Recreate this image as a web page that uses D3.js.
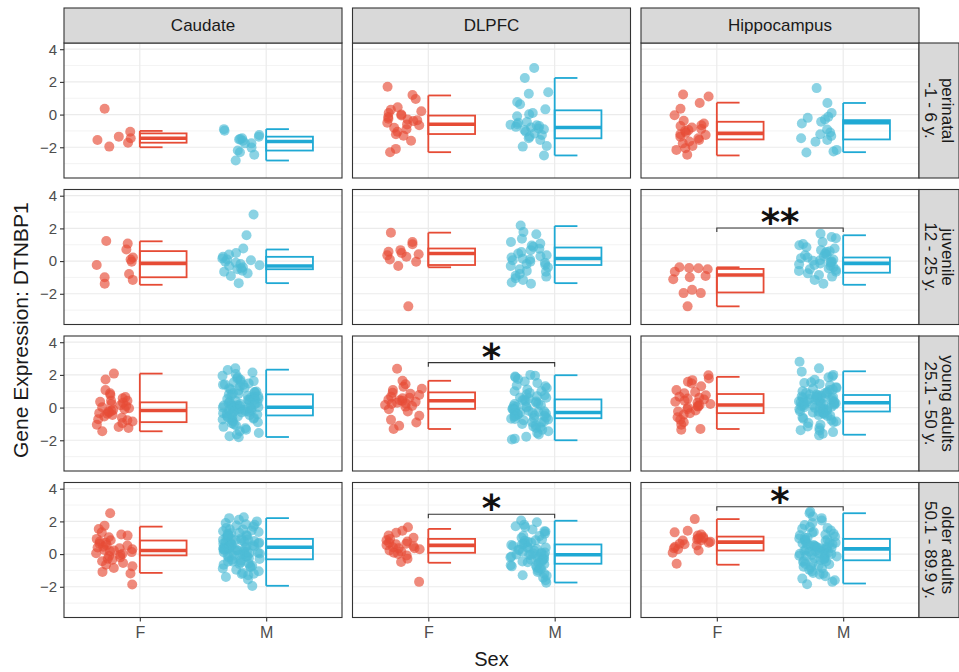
<!DOCTYPE html>
<html>
<head>
<meta charset="utf-8">
<script src="https://cdn.jsdelivr.net/npm/d3@7"></script>
<style>
  body { margin: 0; background: #fff; }
  svg { font-family: "Liberation Sans", Arial, sans-serif; }
</style>
</head>
<body>
<div id="chart"></div>
<script>
// facets and axis values
const regions = ["Caudate", "DLPFC", "Hippocampus"];
const ages = [
  ["perinatal", "-1 - 6 y."],
  ["juvenile", "12 - 25 y."],
  ["young adults", "25.1 - 50 y."],
  ["older adults", "50.1 - 89.9 y."]
];
const sexes = ["F", "M"];
const yTicks = [-2, 0, 2, 4];
const yMinor = [-3, -1, 1, 3];

// gene expression values, one array per panel and sex
const caudatePerinatalF = [0.36, -1.05, -1.35, -1.45, -1.55, -1.72, -1.96];
const caudatePerinatalM = [-0.89, -0.99, -1.25, -1.35, -1.45, -1.52, -1.6, -1.76, -1.76, -2.02, -2.2, -2.3, -2.46, -2.81, -1.5];
const dlpfcPerinatalF = [1.7, 1.2, 0.95, 0.45, 0.3, 0.2, 0.1, 0.0, -0.05, -0.15, -0.25, -0.3, -0.4, -0.5, -0.6, -0.65, -0.8, -0.9, -1.05, -1.2, -1.3, -1.6, -2.1, -2.3, -0.35];
const dlpfcPerinatalM = [2.85, 2.24, 1.37, 1.27, 0.77, 0.63, 0.32, 0.1, 0.02, -0.1, -0.45, -0.59, -0.62, -0.65, -0.7, -0.75, -0.79, -0.85, -0.9, -0.95, -1.05, -1.15, -1.25, -1.35, -1.45, -1.55, -1.92, -1.96, -2.5, -0.5];
const hippPerinatalF = [1.23, 1.11, 0.71, 0.36, -0.04, -0.38, -0.55, -0.65, -0.7, -0.79, -0.88, -0.95, -1.0, -1.11, -1.2, -1.25, -1.35, -1.45, -1.56, -1.65, -1.76, -1.92, -2.06, -2.16, -2.46];
const hippPerinatalM = [1.62, 0.71, 0.1, -0.14, -0.2, -0.3, -0.44, -0.55, -0.91, -1.1, -1.2, -1.31, -1.45, -1.56, -1.66, -2.16, -2.26, -2.32];

const caudateJuvenileF = [1.23, 1.07, 0.71, 0.22, -0.04, -0.24, -0.79, -0.99, -1.15, -1.39, 0.1];
const caudateJuvenileM = [2.85, 1.58, 0.77, 0.5, 0.4, 0.26, 0.16, 0.1, 0.05, -0.04, -0.1, -0.18, -0.25, -0.3, -0.38, -0.45, -0.5, -0.59, -0.65, -0.75, -0.91, -1.35];
const dlpfcJuvenileF = [1.74, 1.17, 1.03, 0.67, 0.57, 0.42, 0.35, 0.26, 0.1, -0.04, -0.3, -2.77, 0.5];
const dlpfcJuvenileM = [2.18, 1.78, 1.64, 1.37, 1.17, 1.07, 0.95, 0.87, 0.75, 0.67, 0.55, 0.46, 0.36, 0.3, 0.22, 0.15, 0.1, 0.05, -0.04, -0.1, -0.18, -0.24, -0.3, -0.38, -0.5, -0.6, -0.65, -0.79, -0.9, -0.95, -1.05, -1.15, -1.31, -1.39];
const hippJuvenileF = [-0.38, -0.44, -0.5, -0.42, -0.65, -0.91, -0.99, -1.11, -1.76, -1.96, -1.96, -2.77];
const hippJuvenileM = [1.68, 1.47, 1.4, 1.17, 1.05, 0.97, 0.85, 0.77, 0.67, 0.6, 0.46, 0.4, 0.36, 0.3, 0.22, 0.18, 0.1, 0.05, 0.02, -0.02, -0.1, -0.15, -0.2, -0.24, -0.3, -0.38, -0.45, -0.5, -0.55, -0.6, -0.65, -0.75, -0.85, -0.95, -1.15, -1.39, 0.55, -0.05];

const caudateYoungF = [2.08, 1.72, 1.07, 0.87, 0.77, 0.57, 0.42, 0.42, 0.35, 0.3, 0.22, 0.15, 0.1, 0.02, -0.04, -0.1, -0.14, -0.2, -0.24, -0.34, -0.38, -0.45, -0.55, -0.62, -0.71, -0.78, -0.85, -0.95, -1.05, -1.19, -1.25, -1.45, 0.65, -0.3];
const caudateYoungM = [2.4, 2.3, 2.15, 2.05, 1.95, 1.85, 1.78, 1.7, 1.62, 1.55, 1.48, 1.42, 1.38, 1.3, 1.22, 1.18, 1.1, 1.05, 0.98, 0.92, 0.88, 0.84, 0.8, 0.76, 0.72, 0.68, 0.63, 0.6, 0.55, 0.52, 0.48, 0.44, 0.4, 0.36, 0.33, 0.3, 0.26, 0.22, 0.19, 0.15, 0.12, 0.09, 0.06, 0.03, 0.01, -0.02, -0.05, -0.08, -0.11, -0.14, -0.17, -0.2, -0.24, -0.27, -0.3, -0.34, -0.38, -0.42, -0.46, -0.5, -0.54, -0.58, -0.63, -0.68, -0.73, -0.78, -0.84, -0.9, -0.96, -1.02, -1.1, -1.18, -1.26, -1.35, -1.45, -1.55, -1.65, -1.75, -1.82, 1.4, 0.95, 0.5, 0.1, -0.25, -0.6, 0.7, 0.2, -0.4, 1.6, 0.0];
const dlpfcYoungF = [2.38, 1.64, 1.43, 1.27, 1.15, 1.07, 0.91, 0.85, 0.77, 0.67, 0.6, 0.57, 0.5, 0.42, 0.35, 0.3, 0.22, 0.16, 0.1, 0.06, -0.1, -0.24, -0.5, -0.75, -0.91, -1.11, -1.31, 0.45, 0.25];
const dlpfcYoungM = [2.0, 1.95, 1.9, 1.75, 1.6, 1.5, 1.35, 1.2, 1.1, 1.0, 0.9, 0.8, 0.7, 0.62, 0.55, 0.5, 0.45, 0.38, 0.3, 0.22, 0.15, 0.1, 0.05, 0.0, -0.05, -0.1, -0.14, -0.18, -0.22, -0.26, -0.3, -0.33, -0.36, -0.4, -0.44, -0.48, -0.52, -0.56, -0.6, -0.64, -0.68, -0.72, -0.78, -0.85, -0.92, -1.0, -1.08, -1.15, -1.25, -1.35, -1.45, -1.55, -1.65, -1.78, -1.9, -1.95, 1.85, 1.3, 0.75, 0.25, -0.2, -0.5, -0.9, 0.4, -0.35, 0.05, -0.7, 1.0, -1.2, 0.6];
const hippYoungF = [1.98, 1.78, 1.68, 1.58, 1.47, 1.3, 1.07, 0.95, 0.87, 0.75, 0.67, 0.6, 0.5, 0.42, 0.36, 0.3, 0.22, 0.15, 0.06, 0.0, -0.1, -0.18, -0.24, -0.35, -0.44, -0.59, -0.75, -0.9, -1.05, -1.31, -1.35, 0.55, 0.1];
const hippYoungM = [2.8, 2.4, 2.2, 2.0, 1.85, 1.7, 1.55, 1.45, 1.35, 1.25, 1.15, 1.08, 1.0, 0.95, 0.9, 0.85, 0.8, 0.76, 0.72, 0.68, 0.64, 0.6, 0.56, 0.52, 0.48, 0.45, 0.42, 0.38, 0.35, 0.32, 0.3, 0.27, 0.24, 0.2, 0.17, 0.13, 0.1, 0.06, 0.02, -0.02, -0.06, -0.1, -0.14, -0.18, -0.22, -0.26, -0.3, -0.35, -0.4, -0.46, -0.52, -0.6, -0.68, -0.76, -0.85, -0.95, -1.05, -1.15, -1.25, -1.38, -1.5, -1.6, -1.7, 1.5, 1.1, 0.7, 0.4, 0.15, -0.1, -0.5, 0.9, 0.55, 0.25, -0.3, 1.2, 0.0, 0.35, -0.9, 0.6, 0.8, 1.9, -1.4];

const caudateOlderF = [2.5, 1.74, 1.54, 1.33, 1.2, 1.13, 1.03, 0.93, 0.85, 0.77, 0.7, 0.63, 0.55, 0.53, 0.45, 0.36, 0.3, 0.22, 0.18, 0.12, 0.05, 0.02, -0.05, -0.12, -0.2, -0.28, -0.35, -0.44, -0.55, -0.65, -0.75, -0.85, -1.09, -1.19, -1.86, 0.4, 0.25];
const caudateOlderM = [2.25, 2.2, 2.1, 2.0, 1.9, 1.82, 1.75, 1.68, 1.6, 1.52, 1.45, 1.4, 1.35, 1.28, 1.22, 1.16, 1.1, 1.05, 1.0, 0.96, 0.92, 0.88, 0.84, 0.8, 0.76, 0.72, 0.68, 0.64, 0.6, 0.57, 0.54, 0.5, 0.47, 0.44, 0.42, 0.4, 0.37, 0.34, 0.3, 0.27, 0.24, 0.2, 0.16, 0.12, 0.08, 0.04, 0.0, -0.04, -0.08, -0.12, -0.16, -0.2, -0.25, -0.3, -0.35, -0.4, -0.46, -0.52, -0.58, -0.65, -0.72, -0.8, -0.88, -0.96, -1.05, -1.15, -1.22, -1.3, -1.4, -1.55, -1.95, 1.8, 1.5, 1.2, 0.9, 0.65, 0.45, 0.25, 0.05, -0.15, -0.45, -0.75, 1.1, 0.7, 0.35, -0.05, 1.3, 0.55, 0.15, -0.6, -1.2, 0.85, 0.3];
const dlpfcOlderF = [1.64, 1.43, 1.3, 1.13, 1.0, 0.93, 0.85, 0.77, 0.7, 0.63, 0.55, 0.48, 0.42, 0.36, 0.3, 0.22, 0.15, 0.08, 0.0, -0.08, -0.28, -0.48, -1.7, 0.6, 0.35];
const dlpfcOlderM = [2.05, 1.95, 1.8, 1.65, 1.5, 1.38, 1.25, 1.12, 1.0, 0.9, 0.82, 0.75, 0.68, 0.62, 0.56, 0.5, 0.44, 0.38, 0.32, 0.26, 0.2, 0.14, 0.08, 0.03, -0.02, -0.06, -0.1, -0.15, -0.2, -0.25, -0.3, -0.35, -0.4, -0.45, -0.5, -0.56, -0.62, -0.68, -0.75, -0.82, -0.9, -1.0, -1.1, -1.2, -1.32, -1.45, -1.6, -1.75, 1.7, 1.1, 0.6, 0.1, -0.3, -0.7, 0.4, -0.05, 0.85, -1.3, 0.25, -0.45, 1.4, 0.0, -0.9, 0.7, -0.2];
const hippOlderF = [2.14, 1.43, 1.33, 1.2, 1.13, 0.97, 0.97, 0.9, 0.83, 0.75, 0.7, 0.63, 0.53, 0.45, 0.36, 0.3, 0.22, 0.08, -0.59, 0.6, 0.85, 1.05];
const hippOlderM = [2.6, 2.5, 2.2, 2.05, 1.9, 1.78, 1.65, 1.55, 1.45, 1.35, 1.25, 1.15, 1.08, 1.0, 0.95, 0.9, 0.85, 0.8, 0.75, 0.7, 0.65, 0.6, 0.55, 0.5, 0.46, 0.42, 0.38, 0.34, 0.3, 0.26, 0.22, 0.18, 0.14, 0.1, 0.06, 0.02, -0.02, -0.06, -0.1, -0.15, -0.2, -0.25, -0.3, -0.36, -0.42, -0.48, -0.55, -0.62, -0.7, -0.78, -0.86, -0.95, -1.05, -1.15, -1.25, -1.35, -1.5, -1.6, -1.7, -1.85, 1.6, 1.2, 0.88, 0.5, 0.2, -0.1, -0.45, -0.8, 1.3, 0.7, 0.4, 0.0, -0.6, 1.0, 0.3, -0.3, 2.3, -1.2, 0.62];

// box stats [whisker low, q1, median, q3, whisker high], one row per age group
const boxCaudateF = [[-2.0, -1.72, -1.45, -1.15, -1.0], [-1.45, -0.99, -0.14, 0.61, 1.21], [-1.45, -0.89, -0.18, 0.32, 2.08], [-1.15, -0.08, 0.22, 0.83, 1.68]];
const boxCaudateM = [[-2.81, -2.2, -1.65, -1.35, -0.89], [-1.35, -0.5, -0.3, 0.26, 0.71], [-1.8, -0.48, 0.02, 0.81, 2.32], [-1.94, -0.32, 0.42, 0.93, 2.2]];
const boxDlpfcF = [[-2.3, -1.19, -0.59, -0.06, 1.17], [-0.38, -0.24, 0.46, 0.77, 1.74], [-1.31, -0.08, 0.42, 0.93, 1.64], [-0.53, 0.08, 0.53, 0.93, 1.54]];
const boxDlpfcM = [[-2.5, -1.45, -0.79, 0.26, 2.24], [-1.35, -0.24, 0.16, 0.83, 2.14], [-2.0, -0.65, -0.3, 0.5, 1.98], [-1.74, -0.59, -0.04, 0.59, 2.04]];
const boxHippF = [[-2.5, -1.52, -1.15, -0.44, 0.73], [-2.77, -1.92, -0.85, -0.48, -0.38], [-1.31, -0.34, 0.16, 0.83, 1.88], [-0.65, 0.22, 0.73, 1.07, 2.14]];
const boxHippM = [[-2.3, -1.52, -0.5, -0.34, 0.71], [-1.45, -0.71, -0.14, 0.22, 1.58], [-1.66, -0.24, 0.3, 0.77, 2.22], [-1.8, -0.38, 0.32, 0.93, 2.5]];

// significance brackets
const sigRow = [1, 2, 3, 3];
const sigCol = [2, 1, 1, 2];
const sigY = [2.02, 2.75, 2.44, 2.9];
const sigLabel = ["**", "*", "*", "*"];

// lookup tables for drawing
const points = [
  [[caudatePerinatalF, caudatePerinatalM], [dlpfcPerinatalF, dlpfcPerinatalM], [hippPerinatalF, hippPerinatalM]],
  [[caudateJuvenileF, caudateJuvenileM], [dlpfcJuvenileF, dlpfcJuvenileM], [hippJuvenileF, hippJuvenileM]],
  [[caudateYoungF, caudateYoungM], [dlpfcYoungF, dlpfcYoungM], [hippYoungF, hippYoungM]],
  [[caudateOlderF, caudateOlderM], [dlpfcOlderF, dlpfcOlderM], [hippOlderF, hippOlderM]]
];
const boxes = [[boxCaudateF, boxCaudateM], [boxDlpfcF, boxDlpfcM], [boxHippF, boxHippM]];

const svgW = 959, svgH = 672;
const marginLeft = 64, marginTop = 43;
const panelW = 278, panelH = 135, gapX = 10.5, gapY = 11.5;
const stripH = 35, stripW = 40;

const svg = d3.select("#chart").append("svg")
  .attr("width", svgW).attr("height", svgH);

const y = d3.scaleLinear().domain([-3.88, 4.38]).range([panelH, 0]);
const x = d3.scalePoint().domain(sexes).range([0, panelW]).padding(0.6);
const step = x.step();
const color = d3.scaleOrdinal().domain(sexes).range(["#E64B35", "#4DBBD5"]);
const boxColor = d3.scaleOrdinal().domain(sexes).range(["#E64B35", "#1FA9D4"]);

const rng = d3.randomLcg(7); // only used for horizontal jitter

const panelPos = (r, c) =>
  `translate(${marginLeft + c * (panelW + gapX)},${marginTop + r * (panelH + gapY)})`;

ages.forEach((age, r) => {
  regions.forEach((region, c) => {
    const g = svg.append("g").attr("transform", panelPos(r, c));

    g.append("rect").attr("width", panelW).attr("height", panelH).attr("fill", "#fff");

    // grid
    g.selectAll(".minor").data(yMinor).enter().append("line")
      .attr("x1", 0).attr("x2", panelW)
      .attr("y1", d => y(d)).attr("y2", d => y(d))
      .attr("stroke", "#EBEBEB").attr("stroke-width", 0.6);
    g.selectAll(".major").data(yTicks).enter().append("line")
      .attr("x1", 0).attr("x2", panelW)
      .attr("y1", d => y(d)).attr("y2", d => y(d))
      .attr("stroke", "#EBEBEB").attr("stroke-width", 1.2);
    g.selectAll(".vgrid").data(sexes).enter().append("line")
      .attr("x1", d => x(d)).attr("x2", d => x(d))
      .attr("y1", 0).attr("y2", panelH)
      .attr("stroke", "#EBEBEB").attr("stroke-width", 1.2);

    sexes.forEach((s, si) => {
      const cx = x(s);
      const vals = points[r][c][si];
      g.append("g").selectAll("circle").data(vals).enter().append("circle")
        .attr("cx", () => cx + (-0.2 + (rng() - 0.5) * 0.3) * step)
        .attr("cy", d => y(d))
        .attr("r", 5)
        .attr("fill", color(s))
        .attr("fill-opacity", 0.65);

      const [lo, q1, med, q3, hi] = boxes[c][si][r];
      const bw = step * 0.37, cw = step * 0.18;
      const bg = g.append("g").attr("stroke", boxColor(s)).attr("fill", "none").attr("stroke-width", 1.8);
      bg.append("line").attr("x1", cx).attr("x2", cx).attr("y1", y(lo)).attr("y2", y(hi));
      bg.append("line").attr("x1", cx).attr("x2", cx + cw).attr("y1", y(lo)).attr("y2", y(lo));
      bg.append("line").attr("x1", cx).attr("x2", cx + cw).attr("y1", y(hi)).attr("y2", y(hi));
      bg.append("rect").attr("x", cx).attr("y", y(q3)).attr("width", bw).attr("height", y(q1) - y(q3));
      bg.append("line").attr("x1", cx).attr("x2", cx + bw).attr("y1", y(med)).attr("y2", y(med))
        .attr("stroke-width", 3.6);
    });

    g.append("rect").attr("width", panelW).attr("height", panelH)
      .attr("fill", "none").attr("stroke", "#333").attr("stroke-width", 1.1);

    if (c === 0) {
      const ax = g.append("g").call(d3.axisLeft(y).tickValues(yTicks).tickSize(4).tickPadding(3));
      ax.select(".domain").remove();
      ax.selectAll("line").attr("stroke", "#333").attr("stroke-width", 1.1);
      ax.selectAll("text").attr("fill", "#4D4D4D").style("font-size", "15px")
        .style("font-family", "Liberation Sans, Arial, sans-serif");
    }
    if (r === ages.length - 1) {
      const ax = g.append("g").attr("transform", `translate(0,${panelH})`)
        .call(d3.axisBottom(x).tickSize(4).tickPadding(5));
      ax.select(".domain").remove();
      ax.selectAll("line").attr("stroke", "#333").attr("stroke-width", 1.1);
      ax.selectAll("text").attr("fill", "#4D4D4D").style("font-size", "16px")
        .style("font-family", "Liberation Sans, Arial, sans-serif");
    }
    if (r === 0) {
      g.append("rect").attr("y", -stripH).attr("width", panelW).attr("height", stripH)
        .attr("fill", "#D9D9D9").attr("stroke", "#333").attr("stroke-width", 1.1);
      g.append("text").attr("x", panelW / 2).attr("y", -stripH / 2).attr("dy", "0.35em")
        .attr("text-anchor", "middle").attr("fill", "#1A1A1A").style("font-size", "17px")
        .text(region);
    }
    if (c === regions.length - 1) {
      g.append("rect").attr("x", panelW).attr("width", stripW).attr("height", panelH)
        .attr("fill", "#D9D9D9").attr("stroke", "#333").attr("stroke-width", 1.1);
      const t = g.append("text")
        .attr("transform", `translate(${panelW + stripW / 2},${panelH / 2}) rotate(90)`)
        .attr("text-anchor", "middle").attr("fill", "#1A1A1A").style("font-size", "17px");
      t.append("tspan").attr("x", 0).attr("y", -8.5).attr("dy", "0.35em").text(age[0]);
      t.append("tspan").attr("x", 0).attr("y", 8.5).attr("dy", "0.35em").text(age[1]);
    }
  });
});

// significance brackets
sigRow.forEach((r, i) => {
  const g = svg.append("g").attr("transform", panelPos(r, sigCol[i]));
  const by = y(sigY[i]);
  g.append("path")
    .attr("d", `M${x("F")},${by + 4}V${by}H${x("M")}V${by + 4}`)
    .attr("fill", "none").attr("stroke", "#333").attr("stroke-width", 1.1);
  g.append("text").attr("x", (x("F") + x("M")) / 2).attr("y", by + 7)
    .attr("text-anchor", "middle").attr("fill", "#111")
    .style("font-size", "37px").style("font-weight", "bold")
    .style("font-family", "DejaVu Sans, sans-serif")
    .text(sigLabel[i]);
});

// axis titles
const plotRight = marginLeft + 3 * panelW + 2 * gapX;
svg.append("text")
  .attr("x", (marginLeft + plotRight) / 2)
  .attr("y", marginTop + 4 * panelH + 3 * gapY + 48)
  .attr("text-anchor", "middle").attr("fill", "#1A1A1A").style("font-size", "20px")
  .text("Sex");
svg.append("text")
  .attr("transform", `translate(21,${marginTop + (4 * panelH + 3 * gapY) / 2}) rotate(-90)`)
  .attr("text-anchor", "middle").attr("dy", "0.35em").attr("fill", "#1A1A1A").style("font-size", "21px")
  .text("Gene Expression: DTNBP1");
</script>
</body>
</html>
